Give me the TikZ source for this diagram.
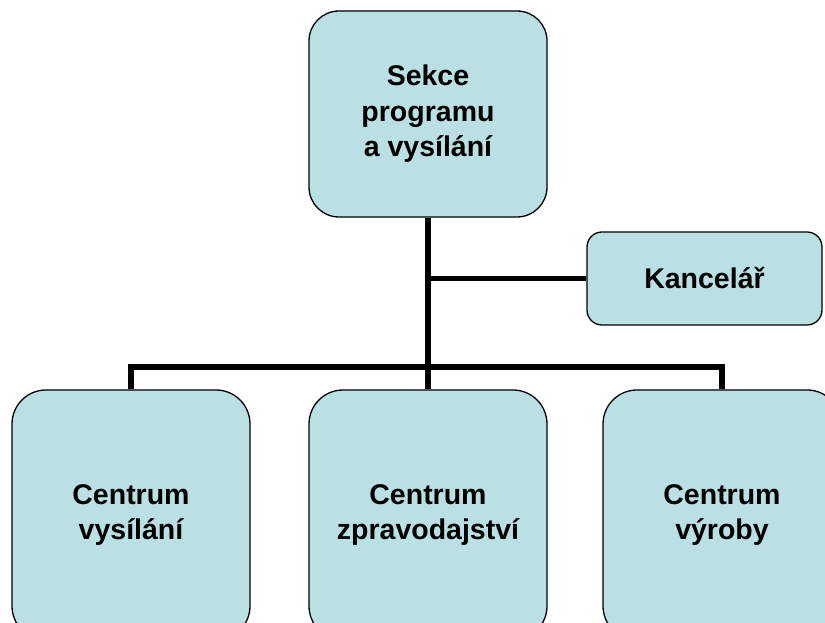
\documentclass[tikz,border=0pt]{standalone}
\usepackage{fontspec}
\setmainfont{Liberation Sans}
\usetikzlibrary{positioning,calc}
\definecolor{boxfill}{RGB}{187,224,227}

\begin{document}
\begin{tikzpicture}[x=1pt, y=1pt]
            % Estilo para os nós
            \tikzstyle{unit}=[rectangle, draw, line width=1.3pt, fill=boxfill, rounded corners=30pt,
                              align=center, font=\fontsize{28.5}{35.5}\selectfont\bfseries,
                              minimum width=238pt, inner sep=0pt]
            \tikzstyle{link}=[line width=5.5pt]

            \clip (0,0) rectangle (825,623);
            \fill[white] (0,0) rectangle (825,623);

            % Nós
            \node[unit, minimum height=206pt] (sekce) at (428,509) {Sekce\\programu\\a vysílání};
            \node[unit, minimum width=235pt, minimum height=93pt, rounded corners=15pt] (kancelar) at (704.5,344.5) {Kancelář};
            \node[unit, minimum height=250pt, rounded corners=34pt] (vysilani) at (131,108) {Centrum\\vysílání};
            \node[unit, minimum height=250pt, rounded corners=34pt] (zprav) at (428,108) {Centrum\\zpravodajství};
            \node[unit, minimum height=250pt, rounded corners=34pt] (vyroby) at (722,108) {Centrum\\výroby};
            \coordinate (bus) at (428,256);

            % Arestas
            \draw[link] (sekce.south) -- (zprav.north);
            \draw[link] (kancelar.west) -- (kancelar.west -| sekce.south);
            \draw[link] (vysilani.north) |- (bus) -| (vyroby.north);
        \end{tikzpicture}
\end{document}
